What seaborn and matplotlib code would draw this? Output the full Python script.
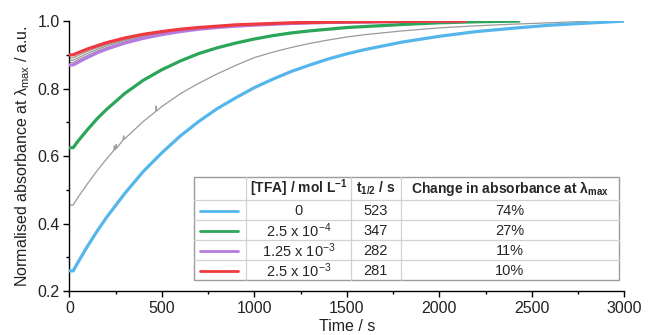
import matplotlib
matplotlib.use("Agg")
import matplotlib.pyplot as plt
import seaborn as sns
import numpy as np
import pandas as pd
from matplotlib.ticker import MultipleLocator
from matplotlib.patches import Rectangle
from matplotlib.lines import Line2D

# ---------------- data ----------------
t_blue = [0, 20, 50, 100, 150, 200, 300, 400, 500, 600, 700, 800, 900, 1000,
          1100, 1200, 1300, 1400, 1500, 1600, 1800, 2000, 2200, 2400, 2600, 2800, 3000]
v_blue = [0.26, 0.26, 0.289, 0.335, 0.378, 0.418, 0.490, 0.555, 0.610, 0.660, 0.703,
          0.741, 0.773, 0.803, 0.828, 0.851, 0.870, 0.888, 0.903, 0.916, 0.938, 0.955,
          0.969, 0.979, 0.988, 0.994, 1.0]

t_green = [0, 20, 50, 100, 150, 200, 300, 400, 500, 600, 700, 800, 900, 1000,
           1100, 1200, 1300, 1400, 1500, 1600, 1800, 2000, 2200, 2430]
v_green = [0.625, 0.625, 0.647, 0.680, 0.711, 0.738, 0.786, 0.825, 0.856, 0.882, 0.904,
           0.921, 0.935, 0.947, 0.957, 0.965, 0.971, 0.976, 0.981, 0.984, 0.990, 0.995,
           0.998, 1.0]

t_grey_mid = [0, 20, 50, 100, 150, 200, 240, 243, 246, 250, 253, 256, 290, 293, 296,
              300, 400, 466, 469, 472, 500, 600, 700, 800, 900, 1000, 1100, 1200, 1300,
              1400, 1500, 1600, 1800, 2000, 2200, 2400, 2600, 2810]
v_grey_mid = [0.455, 0.455, 0.481, 0.520, 0.557, 0.591, 0.617, 0.630, 0.619, 0.622, 0.634,
              0.624, 0.648, 0.660, 0.650, 0.652, 0.703, 0.732, 0.748, 0.734, 0.747, 0.785,
              0.816, 0.844, 0.869, 0.892, 0.908, 0.922, 0.934, 0.944, 0.953, 0.960, 0.971,
              0.980, 0.986, 0.991, 0.995, 1.0]

t_top = [0, 20, 50, 100, 150, 200, 300, 400, 500, 600, 700, 800, 900, 1000,
         1200, 1400, 1600, 1800, 2000, 2140]
v_red = [0.90, 0.90, 0.907, 0.918, 0.927, 0.936, 0.950, 0.961, 0.969, 0.976, 0.981,
         0.985, 0.989, 0.991, 0.995, 0.997, 0.998, 0.999, 1.0, 1.0]
v_purple = [0.87, 0.87, 0.879, 0.893, 0.906, 0.917, 0.935, 0.949, 0.960, 0.969, 0.976,
            0.981, 0.985, 0.988, 0.993, 0.996, 0.997, 0.999, 1.0, 1.0]
v_grey_a = [0.877, 0.877, 0.886, 0.899, 0.911, 0.921, 0.938, 0.952, 0.962, 0.971, 0.977,
            0.982, 0.986, 0.989, 0.993, 0.996, 0.998, 0.999, 1.0, 1.0]
v_grey_b = [0.884, 0.884, 0.892, 0.905, 0.916, 0.926, 0.942, 0.955, 0.965, 0.972, 0.978,
            0.983, 0.987, 0.990, 0.994, 0.996, 0.998, 0.999, 1.0, 1.0]
v_grey_c = [0.891, 0.891, 0.899, 0.911, 0.921, 0.930, 0.945, 0.957, 0.967, 0.974, 0.980,
            0.984, 0.988, 0.990, 0.994, 0.996, 0.998, 0.999, 1.0, 1.0]

# table contents
tfa_labels = ["0", r"2.5 x 10$^{-4}$", r"1.25 x 10$^{-3}$", r"2.5 x 10$^{-3}$"]
half_lives = ["523", "347", "282", "281"]
changes = ["74%", "27%", "11%", "10%"]

C_BLUE = "#55B6EC"
C_GREEN = "#2BA558"
C_PURPLE = "#B57BE0"
C_RED = "#F0383F"
C_GREY = "#9A9A9A"
row_colors = [C_BLUE, C_GREEN, C_PURPLE, C_RED]

# ---------------- style ----------------
sns.set_theme(style="ticks")
plt.rcParams["font.family"] = ["Liberation Sans", "DejaVu Sans"]
plt.rcParams["mathtext.fontset"] = "custom"
plt.rcParams["mathtext.rm"] = "Liberation Sans"
plt.rcParams["mathtext.it"] = "Liberation Sans:italic"
plt.rcParams["mathtext.bf"] = "Liberation Sans:bold"

fig = plt.figure(figsize=(6.49, 3.35), dpi=100)
ax = fig.add_axes([0.107, 0.131, 0.855, 0.806])

def draw(t, v, color, lw, z):
    sns.lineplot(x=t, y=v, color=color, linewidth=lw, ax=ax, estimator=None,
                 sort=False, zorder=z)

draw(t_grey_mid, v_grey_mid, C_GREY, 0.9, 2)
draw(t_blue, v_blue, C_BLUE, 2.3, 3)
draw(t_green, v_green, C_GREEN, 2.3, 3)
draw(t_top, v_grey_a, C_GREY, 0.9, 2)
draw(t_top, v_grey_b, C_GREY, 0.9, 2)
draw(t_top, v_grey_c, C_GREY, 0.9, 2)
draw(t_top, v_purple, C_PURPLE, 2.3, 3)
draw(t_top, v_red, C_RED, 2.3, 4)

ax.set_xlim(0, 3000)
ax.set_ylim(0.2, 1.0)
ax.xaxis.set_major_locator(MultipleLocator(500))
ax.xaxis.set_minor_locator(MultipleLocator(250))
ax.yaxis.set_major_locator(MultipleLocator(0.2))
ax.yaxis.set_minor_locator(MultipleLocator(0.1))
ax.yaxis.set_major_formatter(matplotlib.ticker.FormatStrFormatter("%.1f"))
ax.tick_params(which="major", direction="out", length=4, width=1.0, labelsize=11.5,
               color="black", labelcolor="#222222", pad=3)
ax.tick_params(which="minor", direction="out", length=2.5, width=1.0, color="black")
for s in ["top", "right"]:
    ax.spines[s].set_visible(False)
for s in ["left", "bottom"]:
    ax.spines[s].set_color("black")
    ax.spines[s].set_linewidth(1.0)

ax.set_xlabel("Time / s", fontsize=11.5, color="#222222", labelpad=2)
ax.set_ylabel("Normalised absorbance at λ$_{\\mathrm{max}}$ / a.u.", fontsize=11.5,
              color="#222222", labelpad=4)

# ---------------- table legend (axes-fraction layout) ----------------
def fx(px):
    return (px - 69.5) / 555.0

def fy(py):
    return (291.0 - py) / 270.0

tr = ax.transAxes
left, right, top, bottom = 194, 619, 177, 280
col_x = [246, 351, 401]
row_y = [200, 220, 240, 260]

ax.add_patch(Rectangle((fx(left), fy(bottom)), fx(right) - fx(left), fy(top) - fy(bottom),
                       transform=tr, facecolor="white", edgecolor="#9c9c9c", lw=1.0, zorder=5))
for cx in col_x:
    ax.add_line(Line2D([fx(cx), fx(cx)], [fy(bottom), fy(top)], transform=tr,
                       color="#d2d2d2", lw=0.9, zorder=6))
for ry in row_y:
    ax.add_line(Line2D([fx(left), fx(right)], [fy(ry), fy(ry)], transform=tr,
                       color="#d2d2d2", lw=0.9, zorder=6))

hdr_y = (top + row_y[0]) / 2
ax.text(fx((col_x[0] + col_x[1]) / 2), fy(hdr_y), r"[TFA] / mol L$^{\mathbf{-1}}$",
        transform=tr, ha="center", va="center", fontsize=10, fontweight="bold", zorder=7)
ax.text(fx((col_x[1] + col_x[2]) / 2), fy(hdr_y), r"t$_{\mathbf{1/2}}$ / s",
        transform=tr, ha="center", va="center", fontsize=10, fontweight="bold", zorder=7)
ax.text(fx((col_x[2] + right) / 2), fy(hdr_y), r"Change in absorbance at λ$_{\mathbf{max}}$",
        transform=tr, ha="center", va="center", fontsize=10, fontweight="bold", zorder=7)

row_edges = row_y + [bottom]
for i in range(4):
    cy = (row_edges[i] + row_edges[i + 1]) / 2 + 1
    ax.add_line(Line2D([fx(200), fx(238)], [fy(cy), fy(cy)], transform=tr,
                       color=row_colors[i], lw=2.0, zorder=7))
    ax.text(fx((col_x[0] + col_x[1]) / 2), fy(cy), tfa_labels[i], transform=tr,
            ha="center", va="center", fontsize=10.5, zorder=7)
    ax.text(fx((col_x[1] + col_x[2]) / 2), fy(cy), half_lives[i], transform=tr,
            ha="center", va="center", fontsize=10.5, zorder=7)
    ax.text(fx((col_x[2] + right) / 2), fy(cy), changes[i], transform=tr,
            ha="center", va="center", fontsize=10.5, zorder=7)

fig.savefig("out.png", dpi=100)
